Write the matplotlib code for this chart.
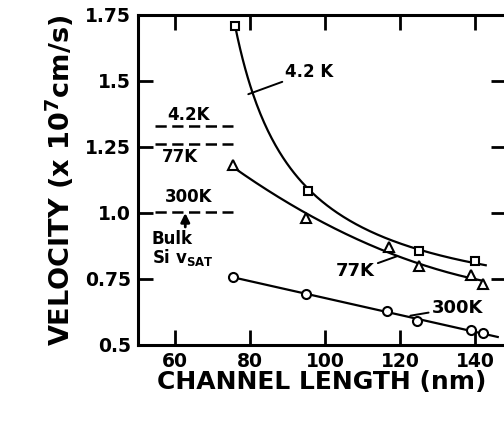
import numpy as np
import matplotlib
matplotlib.use('Agg')
import matplotlib.pyplot as plt

# ---- data ----
L_42 = [76.0, 95.5, 125.0, 140.0]
v_42 = [1.71, 1.085, 0.855, 0.82]

L_77 = [75.5, 95.0, 117.0, 125.0, 139.0, 142.0]
v_77 = [1.18, 0.98, 0.87, 0.80, 0.765, 0.73]

L_300 = [75.5, 95.0, 116.5, 124.5, 139.0, 142.0]
v_300 = [0.757, 0.693, 0.63, 0.59, 0.555, 0.545]

bulk_labels = ['4.2K', '77K', '300K']
bulk_vsat = [1.33, 1.262, 1.003]

xticks = [60, 80, 100, 120, 140]
yticks = [0.5, 0.75, 1.0, 1.25, 1.5, 1.75]
yticklabels = ['0.5', '0.75', '1.0', '1.25', '1.5', '1.75']

plt.rcParams['font.family'] = ['DejaVu Sans']
plt.rcParams['font.weight'] = 'bold'
plt.rcParams['mathtext.default'] = 'bf'
for a in ('xtick', 'ytick'):
    plt.rcParams[a + '.direction'] = 'in'
    plt.rcParams[a + '.major.size'] = 11
    plt.rcParams[a + '.major.width'] = 2
plt.rcParams['xtick.top'] = True
plt.rcParams['ytick.right'] = True

fig = plt.figure(figsize=(5.04, 4.28), dpi=100)
ax = fig.add_axes([138 / 504, 1 - 345 / 428, 368 / 504, 330 / 428])
ax.set_xlim(50.1, 148.2)
ax.set_ylim(0.5, 1.75)

lw = 1.6
# 4.2K curve: fit v = a + b/(L-60)
L42 = np.array(L_42); V42 = np.array(v_42)
p42 = np.polyfit(1.0 / (L42 - 60.0), V42, 1)
xs = np.linspace(L42[0], 142.8, 200)
ax.plot(xs, np.polyval(p42, 1.0 / (xs - 60.0)), color='black', lw=lw, zorder=2)

# 77K curve: quadratic fit
L77 = np.array(L_77); V77 = np.array(v_77)
p77 = np.polyfit(L77, V77, 2)
xs = np.linspace(L77[0], 142.0, 200)
ax.plot(xs, np.polyval(p77, xs), color='black', lw=lw, zorder=2)

# 300K line
L3 = np.array(L_300); V3 = np.array(v_300)
p3 = np.polyfit(L3, V3, 1)
xs = np.linspace(L3[0], 146.0, 50)
ax.plot(xs, np.polyval(p3, xs), color='black', lw=lw, zorder=2)

mk = dict(linestyle='none', markerfacecolor='white', markeredgecolor='black',
          markeredgewidth=1.5, zorder=3)
ax.plot(L_42, v_42, marker='s', markersize=6, **mk)
ax.plot(L_77, v_77, marker='^', markersize=7.5, **mk)
ax.plot(L_300, v_300, marker='o', markersize=6.5, **mk)

# bulk saturation velocity dashes
for lab, v in zip(bulk_labels, bulk_vsat):
    ax.plot([54.5, 75.3], [v, v], color='black', lw=1.8, dashes=(4.5, 2.2), zorder=2)
fs_small = 12
ax.text(63.5, 1.372, '4.2K', ha='center', va='center', fontsize=fs_small, fontweight='bold')
ax.text(61.3, 1.212, '77K', ha='center', va='center', fontsize=fs_small, fontweight='bold')
ax.text(63.5, 1.062, '300K', ha='center', va='center', fontsize=fs_small, fontweight='bold')
ax.annotate('', xy=(62.7, 1.0), xytext=(62.7, 0.947),
            arrowprops=dict(arrowstyle='-|>', color='black', lw=2.0, mutation_scale=13,
                            shrinkA=0, shrinkB=0))
ax.text(53.8, 0.903, 'Bulk', ha='left', va='center', fontsize=fs_small, fontweight='bold')
ax.text(53.8, 0.83, r'Si $\mathregular{v_{SAT}}$', ha='left', va='center',
        fontsize=fs_small, fontweight='bold')

# curve labels with leader lines
lead = dict(arrowstyle='-', color='black', lw=1.4, shrinkA=0, shrinkB=0)
ax.annotate('4.2 K', xy=(79.5, 1.45), xytext=(89.3, 1.534), ha='left', va='center',
            fontsize=fs_small, fontweight='bold', arrowprops=lead)
ax.annotate('77K', xy=(119.1, 0.836), xytext=(113.3, 0.78), ha='right', va='center',
            fontsize=fs_small + 1, fontweight='bold', arrowprops=lead)
ax.annotate('300K', xy=(122.7, 0.611), xytext=(128.3, 0.641), ha='left', va='center',
            fontsize=fs_small + 1, fontweight='bold', arrowprops=lead)

# axes styling
for s in ax.spines.values():
    s.set_linewidth(2.2)
ax.set_xticks(xticks)
ax.set_xticklabels([str(t) for t in xticks])
ax.set_yticks(yticks)
ax.set_yticklabels(yticklabels)
ax.tick_params(axis='both', which='major', direction='in', top=True, right=True,
               length=11, width=2, color='black', labelsize=13.5, pad=5)
for lbl in ax.get_xticklabels() + ax.get_yticklabels():
    lbl.set_fontweight('bold')

ax.set_xlabel('CHANNEL LENGTH (nm)', fontsize=18, fontweight='bold', va='center')
ax.xaxis.set_label_coords(0.5, -0.112)
ax.set_ylabel(r'VELOCITY (x 10$^{\mathregular{7}}$cm/s)', fontsize=19.5, fontweight='bold',
              va='center')
ax.yaxis.set_label_coords(-0.212, 0.5)

fig.savefig('out.png', dpi=100)
